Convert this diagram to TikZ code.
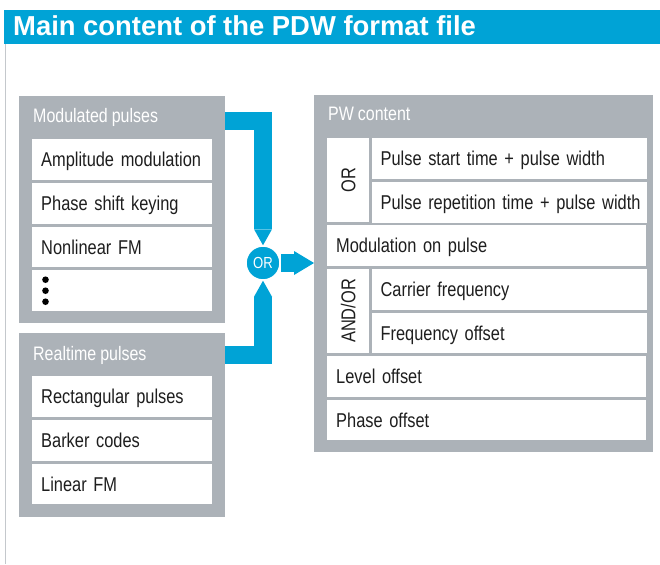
\documentclass[tikz,border=0pt]{standalone}
\usepackage{fontspec}
\setmainfont{Liberation Sans}
\newfontfamily\cond[FakeStretch=0.82,WordSpace=0.9]{Liberation Sans}
\usepackage{tikz}
\usetikzlibrary{positioning,arrows.meta}
\definecolor{pdwblue}{HTML}{00A3D6}
\definecolor{pdwgray}{HTML}{ACB2B8}
\definecolor{pdwline}{HTML}{C4C8CC}
\definecolor{pdwtext}{HTML}{1E1E1E}
\begin{document}
\begin{tikzpicture}[x=1pt,y=-1pt,
    box/.style={fill=pdwgray, anchor=north west, inner sep=0pt},
    head/.style={text=white, font=\cond\fontsize{19.5}{22}\selectfont, inner sep=0pt, anchor=base west},
    cell/.style={fill=white, anchor=north west, inner xsep=9pt, inner ysep=0pt, minimum height=40.8pt,
        text height=14.4pt, text depth=0pt, align=left, text=pdwtext, font=\cond\fontsize{20}{24}\selectfont},
    lrow/.style={cell, text width=162pt},
    subcell/.style={cell, text width=257pt},
    wide/.style={cell, text width=301pt},
    side/.style={cell, minimum width=42pt, minimum height=84.1pt, inner xsep=0pt},
    rot/.style={rotate=90, inner sep=0pt, text height=14.4pt, text depth=0pt, text=pdwtext, font=\cond\fontsize{20}{24}\selectfont},
    orball/.style={circle, fill=pdwblue, draw=white, line width=1.5pt, minimum size=34pt, inner sep=0pt,
        text=white, font=\cond\fontsize{16}{18}\selectfont},
    bar/.style={draw=pdwblue, line width=18pt, line join=miter}]
    \useasboundingbox (0,0) rectangle (660,564);
    \fill[pdwblue] (4,10) rectangle (660,44);
    \node[anchor=base west, inner sep=0pt, text=white, font=\bfseries\fontsize{27.4}{30}\selectfont] (title) at (13,36) {Main content of the PDW format file};
    \draw[pdwline, line width=1pt] (5,44) -- (5,564);

    \node[box, minimum width=206pt, minimum height=227pt] (mod) at (19,96) {};
    \node[head] (modhead) at ([xshift=14pt,yshift=-27pt]mod.north west) {Modulated pulses};
    \node[lrow] (amp) at ([xshift=13pt,yshift=-43pt]mod.north west) {Amplitude modulation};
    \node[lrow, below=2.5pt of amp] (psk) {Phase shift keying};
    \node[lrow, below=2.5pt of psk] (nlfm) {Nonlinear FM};
    \node[lrow, below=2.5pt of nlfm] (more) {};
    \foreach \d in {-11,0,11}
        \fill[black] ([xshift=13.5pt,yshift=\d pt]more.west) circle (3.3pt);

    \node[box, minimum width=206pt, minimum height=184pt] (rt) at (19,333) {};
    \node[head] (rthead) at ([xshift=14pt,yshift=-27pt]rt.north west) {Realtime pulses};
    \node[lrow] (rect) at ([xshift=13pt,yshift=-43pt]rt.north west) {Rectangular pulses};
    \node[lrow, below=2.5pt of rect] (barker) {Barker codes};
    \node[lrow, below=2.5pt of barker] (lfm) {Linear FM};

    \node[box, minimum width=339pt, minimum height=357pt] (pw) at (314,95) {};
    \node[head] (pwhead) at ([xshift=14pt,yshift=-26pt]pw.north west) {PW content};
    \node[side] (orcell) at ([xshift=13pt,yshift=-43pt]pw.north west) {};
    \node[rot] (orlab) at (orcell.center) {OR};
    \node[subcell] (pst) at ([xshift=2pt]orcell.north east) {Pulse start time + pulse width};
    \node[subcell, below=2.5pt of pst] (prt) {\mbox{Pulse repetition time + pulse width}};
    \node[wide] (mop) at ([yshift=-2.5pt]orcell.south west) {Modulation on pulse};
    \node[side] (aocell) at ([yshift=-2.5pt]mop.south west) {};
    \node[rot] (aolab) at (aocell.center) {AND/OR};
    \node[subcell] (cf) at ([xshift=2pt]aocell.north east) {Carrier frequency};
    \node[subcell, below=2.5pt of cf] (fo) {Frequency offset};
    \node[wide] (lo) at ([yshift=-2.5pt]aocell.south west) {Level offset};
    \node[wide, below=2.5pt of lo] (po) {Phase offset};

    \node[orball] (or) at (263,263) {OR};
    \draw[bar, -{Triangle[width=18pt,length=16pt,line width=0pt]}] ([yshift=-25.5pt]mod.north east) -| (or.north);
    \draw[bar, -{Triangle[width=18pt,length=16pt,line width=0pt]}] ([yshift=-22pt]rt.north east) -| (or.south);
    \draw[bar, -{Triangle[width=24pt,length=20pt,line width=0pt]}] (or.east) -- (or -| pw.west);
\end{tikzpicture}
\end{document}
